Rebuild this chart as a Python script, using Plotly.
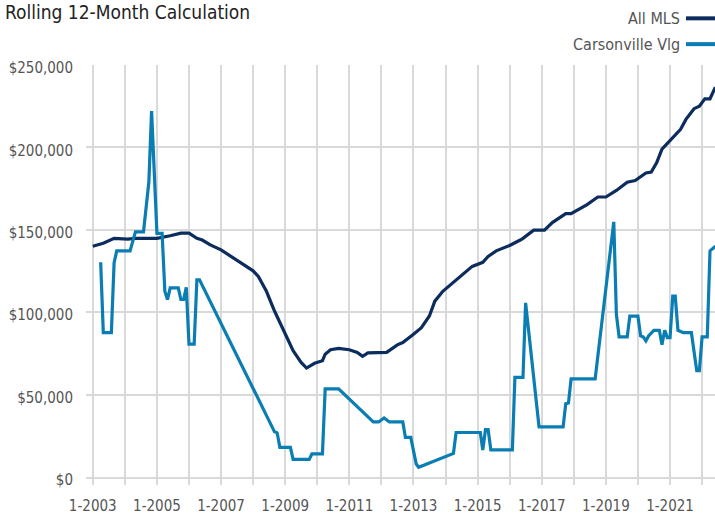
import plotly.graph_objects as go

# ---- data ----
mls_dates = ["2003-01", "2003-05", "2003-09", "2004-02", "2004-05", "2005-01", "2005-06", "2005-10",
             "2006-01", "2006-04", "2006-06", "2006-09", "2007-01", "2007-04", "2007-08", "2008-01",
             "2008-03", "2008-06", "2008-09", "2009-01", "2009-04", "2009-07", "2009-09", "2009-12",
             "2010-03", "2010-04", "2010-06", "2010-09", "2011-01", "2011-04", "2011-06", "2011-08",
             "2012-03", "2012-07", "2012-09", "2013-01", "2013-04", "2013-07", "2013-09", "2013-12",
             "2014-03", "2014-08", "2014-11", "2015-03", "2015-05", "2015-08", "2015-12", "2016-01",
             "2016-05", "2016-06", "2016-10", "2017-02", "2017-05", "2017-10", "2017-12", "2018-06",
             "2018-10", "2019-01", "2019-05", "2019-09", "2019-12", "2020-04", "2020-06", "2020-08",
             "2020-10", "2021-01", "2021-05", "2021-07", "2021-10", "2021-12", "2022-02", "2022-04",
             "2022-06"]
mls_values = [140000, 141800, 144800, 144400, 144800, 144800, 146400, 148000,
              148000, 144800, 143800, 140800, 137800, 134800, 130300, 125100,
              121700, 112700, 100700, 86600, 76600, 69500, 66100, 69000,
              70600, 74500, 77200, 78000, 77200, 75600, 73200, 75300,
              75600, 80200, 81600, 86600, 90600, 97700, 106700, 112700,
              116700, 123700, 127800, 130300, 133800, 137200, 139800, 140500,
              143800, 144800, 149800, 149800, 154400, 159800, 159800, 165300,
              169900, 169900, 173900, 178900, 179900, 184500, 185000, 190600,
              199000, 204000, 211000, 217000, 223500, 225000, 229500, 229500,
              236500]

cv_dates = ["2003-04", "2003-05", "2003-08", "2003-09", "2003-10", "2004-03", "2004-05", "2004-08",
            "2004-10", "2004-11", "2005-01", "2005-03", "2005-04", "2005-05", "2005-06", "2005-09",
            "2005-10", "2005-11", "2005-12", "2006-01", "2006-03", "2006-04", "2006-05", "2008-09",
            "2008-10", "2008-11", "2009-03", "2009-04", "2009-10", "2009-11", "2010-03", "2010-04",
            "2010-09", "2011-10", "2011-12", "2012-02", "2012-04", "2012-09", "2012-10", "2012-12",
            "2013-02", "2013-03", "2014-04", "2014-05", "2015-02", "2015-03", "2015-04", "2015-05",
            "2015-06", "2016-02", "2016-03", "2016-06", "2016-07", "2016-12", "2017-09", "2017-10",
            "2017-11", "2017-12", "2018-09", "2019-04", "2019-05", "2019-06", "2019-09", "2019-10",
            "2020-01", "2020-02", "2020-03", "2020-04", "2020-05", "2020-07", "2020-09", "2020-10",
            "2020-11", "2020-12", "2021-01", "2021-02", "2021-03", "2021-04", "2021-06", "2021-09",
            "2021-11", "2021-12", "2022-01", "2022-03", "2022-04", "2022-06"]
cv_values = [130300, 87600, 87600, 130000, 137200, 137200, 148800, 148800,
             179000, 222000, 147800, 147800, 112700, 107700, 114700, 114700,
             107700, 107700, 115100, 80600, 80600, 119700, 119700, 27400,
             26800, 18000, 18000, 10700, 10700, 14000, 14000, 53500,
             53500, 33400, 33400, 35800, 33400, 33400, 24000, 24000,
             7900, 5900, 14300, 27000, 27000, 16400, 28800, 28800,
             16400, 16400, 60500, 60500, 105700, 30400, 30400, 44400,
             44900, 59500, 59500, 154800, 98600, 85000, 85000, 97600,
             97600, 85600, 85000, 82600, 85600, 89000, 89000, 80200,
             89000, 84600, 84600, 109700, 109700, 89000, 87600, 87600,
             64500, 64500, 85000, 85000, 137200, 140000]

series_names = ["All MLS", "Carsonville Vlg"]
title_text = "Rolling 12-Month Calculation"

NAVY = "#0b2c5c"
BLUE = "#0a7db3"
GRID = "#d9d9d9"
FONT = "DejaVu Sans Condensed, Liberation Sans Narrow, Arial Narrow, sans-serif"
TXT = "#555555"

fig = go.Figure()
fig.add_trace(go.Scatter(x=mls_dates, y=mls_values, mode="lines", name=series_names[0],
                         line=dict(color=NAVY, width=3.2)))
fig.add_trace(go.Scatter(x=cv_dates, y=cv_values, mode="lines", name=series_names[1],
                         line=dict(color=BLUE, width=3.2)))

fig.update_layout(
    width=715, height=515,
    margin=dict(l=86, r=0, t=65, b=35),
    paper_bgcolor="white", plot_bgcolor="white",
    showlegend=False,
    font=dict(family=FONT, size=15, color=TXT),
)
fig.update_xaxes(
    type="date", range=["2002-10-16", "2022-05-28"],
    tick0="2003-01-01", dtick="M24", tickformat="%-m-%Y",
    showgrid=True, gridcolor=GRID, gridwidth=1.5,
    ticks="outside", ticklen=6, tickcolor=GRID, tickwidth=1.5,
    minor=dict(dtick="M12", tick0="2003-01-01", showgrid=True, gridcolor=GRID, gridwidth=1.5,
               ticks="outside", ticklen=6, tickcolor=GRID, tickwidth=1.5),
    showline=True, linecolor=GRID, linewidth=2,
    tickfont=dict(family=FONT, size=15, color=TXT),
    ticklabelstandoff=8,
)
fig.update_yaxes(
    range=[0, 250000], dtick=50000, tickprefix="$", tickformat=",d",
    showgrid=True, gridcolor=GRID, gridwidth=1.5, zeroline=False,
    tickfont=dict(family=FONT, size=15, color=TXT),
    ticklabelstandoff=12, ticklabelshift=3,
)

# title and legend drawn in paper coordinates
fig.add_annotation(text=title_text, xref="paper", yref="paper", x=-83/629, y=1 + 53/415,
                   xanchor="left", yanchor="middle", showarrow=False,
                   font=dict(family=FONT, size=19, color="#222222"))
for i, (name, col) in enumerate(zip(series_names, [NAVY, BLUE])):
    yy = 1 + (47 - 26 * i) / 415
    fig.add_annotation(text=name, xref="paper", yref="paper", x=1 - 33/629, y=yy,
                       xanchor="right", yanchor="middle", showarrow=False,
                       font=dict(family=FONT, size=16, color=TXT))
    fig.add_shape(type="line", xref="paper", yref="paper", x0=1 - 29/629, x1=1.0,
                  y0=yy, y1=yy, line=dict(color=col, width=4))

fig.write_html("out.html", config={"displayModeBar": False},
               post_script="document.body.style.margin='0';document.body.style.overflow='hidden';")
